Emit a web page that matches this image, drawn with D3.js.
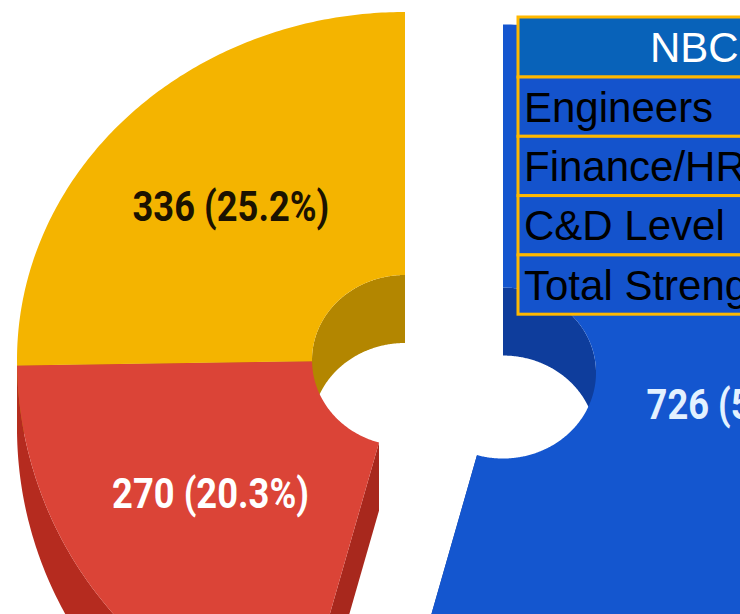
<!DOCTYPE html>
<html>
<head>
<meta charset="utf-8">
<script src="https://cdn.jsdelivr.net/npm/d3@7"></script>
<style>
  html, body { margin: 0; padding: 0; background: #fff; overflow: hidden; }
</style>
</head>
<body>
<div id="chart"></div>
<script>
// Zoomed-in crop of a 3D donut (exploded first slice) with a staff table on top

const sliceNames  = ["Engineers", "Finance/HR", "C&D Level"];
const sliceValues = [726, 270, 336];
const tableTitle  = "NBC";
const tableRows   = ["Engineers", "Finance/HR", "C&D Level", "Total Strength"];

const width = 740, height = 614;

const TOP_COLOR  = ["#1456cf", "#db4437", "#f4b400"];
const WALL_IN    = ["#0e3d9c", "#a32a20", "#b38600"];
const WALL_OUT   = ["#0e3d9c", "#b52b1f", "#b38600"];
const CUT_COLOR  = ["#0d3a96", "#a8281d", "#b38600"];
const LABEL_FILL = ["#e3f1ff", "#ffffff", "#1b1200"];

// projected geometry of the donut (screen px)
const geo = {
  cx: 405, cy: 360,
  rx: 388, ryBack: 348, ryFront: 385,
  irx: 93, iryBack: 85, iryFront: 86,
  depth: 68
};
const explode = [99, 0, 0];

const svg = d3.select("#chart")
  .append("svg")
  .attr("width", width)
  .attr("height", height);

const pie = d3.pie().sort(null).value(d => d);
const arcs = pie(sliceValues);
const total = d3.sum(sliceValues);
const line = d3.line();

// point on the tilted ellipse; front half drawn a bit taller (perspective)
function pt(c, a, rx, ryB, ryF, dz) {
  const s = Math.sin(a), co = Math.cos(a);
  return [c[0] + rx * s, c[1] - co * (co > 0 ? ryB : ryF) + dz];
}

function arcPts(c, a0, a1, outer, dz) {
  const n = Math.max(2, Math.ceil(Math.abs(a1 - a0) / 0.01));
  const rx  = outer ? geo.rx : geo.irx;
  const ryB = outer ? geo.ryBack : geo.iryBack;
  const ryF = outer ? geo.ryFront : geo.iryFront;
  return d3.range(n + 1).map(k => pt(c, a0 + (a1 - a0) * k / n, rx, ryB, ryF, dz));
}

const slices = arcs.map((d, i) => {
  const mid = (d.startAngle + d.endAngle) / 2;
  const e = explode[i];
  const c = [geo.cx + e * Math.sin(mid), geo.cy - e * Math.cos(mid) * (geo.ryBack / geo.rx)];
  return { ...d, i, mid, c };
});

const gInner = svg.append("g");
const gCut   = svg.append("g");
const gOuter = svg.append("g");
const gTop   = svg.append("g");
const gLabel = svg.append("g");

const H = Math.PI / 2;

slices.forEach(s => {
  const { c, startAngle: a0, endAngle: a1, i } = s;

  // inner wall, only the far (back) half shows through the hole
  [[0, H], [3 * H, 4 * H]].forEach(([lo, hi]) => {
    const b0 = Math.max(a0, lo), b1 = Math.min(a1, hi);
    if (b1 <= b0) return;
    const pts = arcPts(c, b0, b1, false, 0).concat(arcPts(c, b1, b0, false, geo.depth));
    gInner.append("path").attr("d", line(pts) + "Z").attr("fill", WALL_IN[i]);
  });

  // radial cut faces
  [a0, a1].forEach(a => {
    const pts = [
      pt(c, a, geo.irx, geo.iryBack, geo.iryFront, 0),
      pt(c, a, geo.rx, geo.ryBack, geo.ryFront, 0),
      pt(c, a, geo.rx, geo.ryBack, geo.ryFront, geo.depth),
      pt(c, a, geo.irx, geo.iryBack, geo.iryFront, geo.depth)
    ];
    gCut.append("path").attr("d", line(pts) + "Z").attr("fill", CUT_COLOR[i]);
  });

  // outer wall, near (front) half
  const o0 = Math.max(a0, H), o1 = Math.min(a1, 3 * H);
  if (o1 > o0) {
    const pts = arcPts(c, o0, o1, true, 0).concat(arcPts(c, o1, o0, true, geo.depth));
    gOuter.append("path").attr("d", line(pts) + "Z").attr("fill", WALL_OUT[i]);
  }

  // top face
  const top = arcPts(c, a0, a1, true, 0).concat(arcPts(c, a1, a0, false, 0));
  gTop.append("path").attr("d", line(top) + "Z").attr("fill", TOP_COLOR[i]);

  // value label (placed on the untilted mid-radius ellipse)
  const f = 0.63;
  const p = pt(c, s.mid, geo.rx * f, geo.ryBack * f, geo.ryBack * f, 0);
  gLabel.append("text")
    .attr("transform", `translate(${p[0]},${p[1]}) scale(0.865,1)`)
    .attr("text-anchor", "middle")
    .attr("dy", "0.36em")
    .style("font-family", "Roboto, sans-serif")
    .style("font-weight", "bold")
    .style("font-size", "42px")
    .style("fill", LABEL_FILL[i])
    .text(`${s.data} (${(s.data / total * 100).toFixed(1)}%)`);
});

// table overlay
const tableX = 518, tableY = 17, headH = 60, rowH = 59.3, tableW = 400;
const gTable = svg.append("g");

gTable.append("rect")
  .attr("x", tableX).attr("y", tableY)
  .attr("width", tableW).attr("height", headH)
  .attr("fill", "#0862b9")
  .attr("stroke", "#ffb800").attr("stroke-width", 3);

gTable.append("text")
  .attr("x", 650).attr("y", tableY + headH / 2)
  .attr("dy", "0.36em")
  .style("font-family", "Liberation Sans, Arial, sans-serif")
  .style("font-size", "42px")
  .style("fill", "#ffffff")
  .text(tableTitle);

tableRows.forEach((name, k) => {
  const y0 = tableY + headH + k * rowH;
  gTable.append("rect")
    .attr("x", tableX).attr("y", y0)
    .attr("width", tableW).attr("height", rowH)
    .attr("fill", "#1453cc")
    .attr("stroke", "#ffb800").attr("stroke-width", 3);
  gTable.append("text")
    .attr("x", tableX + 6).attr("y", y0 + rowH / 2)
    .attr("dy", "0.36em")
    .style("font-family", "Liberation Sans, Arial, sans-serif")
    .style("font-size", "42px")
    .style("fill", "#000")
    .text(name);
});
</script>
</body>
</html>
